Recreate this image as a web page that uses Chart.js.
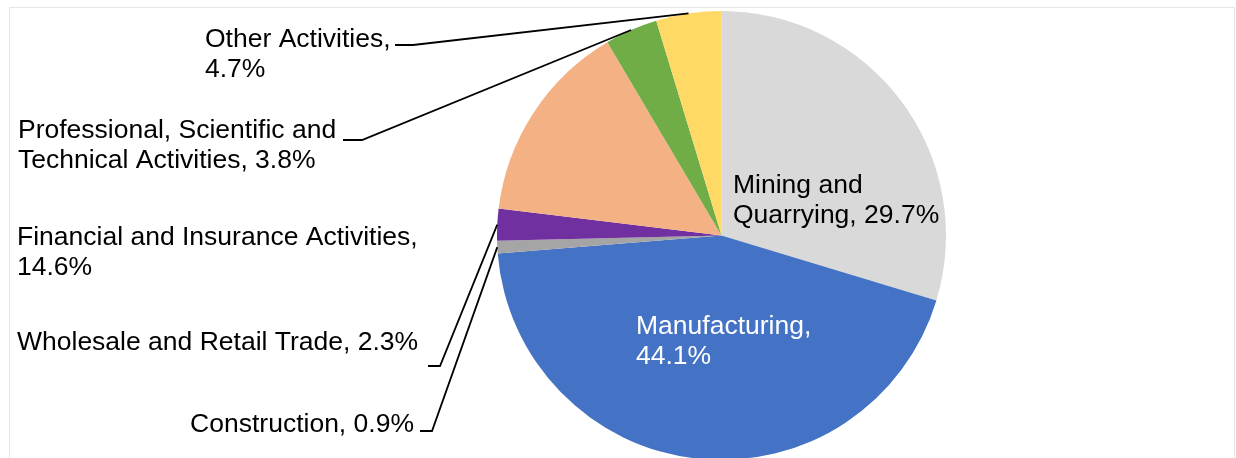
<!DOCTYPE html>
<html>
<head>
<meta charset="utf-8">
<script src="https://cdn.jsdelivr.net/npm/chart.js@4"></script>
<style>
  html, body { margin: 0; padding: 0; background: #fff; overflow: hidden; }
</style>
</head>
<body>
<canvas id="pie" width="1236" height="462"></canvas>
<script>
// data
const categories = ['Mining and Quarrying', 'Manufacturing', 'Construction', 'Wholesale and Retail Trade',
  'Financial and Insurance Activities', 'Professional, Scientific and Technical Activities', 'Other Activities'];
const shares = [29.7, 44.1, 0.9, 2.3, 14.6, 3.8, 4.7];

// styles
const sliceColors = ['#D9D9D9', '#4472C4', '#A5A5A5', '#7030A0', '#F4B183', '#70AD47', '#FFD966'];
const labelFont = '26.5px "Liberation Sans", Arial, sans-serif';

// label placement (text lines use {v} for the value)
const labelLayout = [
  { index: 0, lines: ['Mining and', 'Quarrying, {v}'], x: 733, y: 193, color: '#000' },
  { index: 1, lines: ['Manufacturing,', '{v}'], x: 636, y: 334, color: '#fff' },
  { index: 2, lines: ['Construction, {v}'], x: 414, y: 432, align: 'right', color: '#000', leader: [420, 432, 431] },
  { index: 3, lines: ['Wholesale and Retail Trade, {v}'], x: 17, y: 350, color: '#000', leader: [428, 440, 366] },
  { index: 4, lines: ['Financial and Insurance Activities,', '{v}'], x: 17, y: 245, color: '#000' },
  { index: 5, lines: ['Professional, Scientific and', 'Technical Activities, {v}'], x: 18, y: 138, color: '#000', leader: [343, 362, 140] },
  { index: 6, lines: ['Other Activities,', '{v}'], x: 205, y: 47, color: '#000', leader: [395, 413, 45] }
];

const pieLabels = {
  id: 'pieLabels',
  beforeDraw(chart) {
    const ctx = chart.ctx;
    ctx.save();
    ctx.strokeStyle = '#E6E6E6';
    ctx.lineWidth = 1;
    ctx.strokeRect(9.5, 7.5, 1225, 480);
    ctx.restore();
  },
  afterDraw(chart) {
    const ctx = chart.ctx;
    const meta = chart.getDatasetMeta(0);
    ctx.save();
    ctx.font = labelFont;
    ctx.textBaseline = 'alphabetic';
    labelLayout.forEach(item => {
      const value = shares[item.index].toFixed(1) + '%';
      ctx.fillStyle = item.color;
      ctx.textAlign = item.align || 'left';
      item.lines.forEach((line, i) => {
        ctx.fillText(line.replace('{v}', value), item.x, item.y + i * 30);
      });
      if (item.leader) {
        const arc = meta.data[item.index];
        const p = arc.getProps(['x', 'y', 'startAngle', 'endAngle', 'outerRadius'], true);
        const mid = (p.startAngle + p.endAngle) / 2;
        const tx = p.x + Math.cos(mid) * p.outerRadius;
        const ty = p.y + Math.sin(mid) * p.outerRadius;
        ctx.strokeStyle = '#000';
        ctx.lineWidth = 1.8;
        ctx.beginPath();
        ctx.moveTo(item.leader[0], item.leader[2]);
        ctx.lineTo(item.leader[1], item.leader[2]);
        ctx.lineTo(tx, ty);
        ctx.stroke();
      }
    });
    ctx.restore();
  }
};

new Chart(document.getElementById('pie'), {
  type: 'pie',
  data: {
    labels: categories,
    datasets: [{
      data: shares,
      backgroundColor: sliceColors,
      borderWidth: 0
    }]
  },
  options: {
    responsive: false,
    animation: false,
    layout: {
      padding: { left: 497, right: 290, top: 11, bottom: 2 }
    },
    plugins: {
      legend: { display: false },
      tooltip: { enabled: false }
    }
  },
  plugins: [pieLabels]
});
</script>
</body>
</html>
